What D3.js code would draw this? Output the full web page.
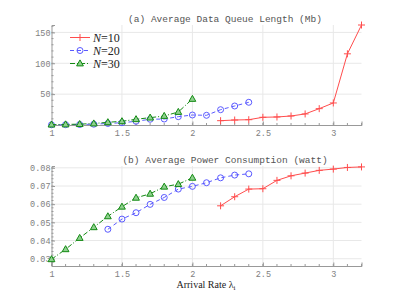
<!DOCTYPE html>
<html>
<head>
<meta charset="utf-8">
<title>Queue length and power</title>
<script src="https://cdn.jsdelivr.net/npm/d3@7"></script>
<style>
body { margin: 0; background: #fff; }
.tick text { font-family: "Liberation Mono", "DejaVu Sans Mono", monospace; font-size: 8.5px; fill: #808080; }
.ttl { font-family: "Liberation Mono", monospace; font-size: 9.5px; fill: #555; }
.lab { font-family: "Liberation Serif", "DejaVu Serif", serif; font-size: 10px; fill: #222; }
.leg { font-family: "Liberation Serif", "DejaVu Serif", serif; font-size: 12px; fill: #222; }
</style>
</head>
<body>
<svg id="chart" width="399" height="299"></svg>
<script>
// series x values
var x10 = [2.2, 2.3, 2.4, 2.5, 2.6, 2.7, 2.8, 2.9, 3.0, 3.1, 3.2];
var x20 = [1.0, 1.1, 1.2, 1.3, 1.4, 1.5, 1.6, 1.7, 1.8, 1.9, 2.0, 2.1, 2.2, 2.3, 2.4];
var x30 = [1.0, 1.1, 1.2, 1.3, 1.4, 1.5, 1.6, 1.7, 1.8, 1.9, 2.0];
var xPow20 = [1.4, 1.5, 1.6, 1.7, 1.8, 1.9, 2.0, 2.1, 2.2, 2.3, 2.4];

// (a) queue length, Mb
var queue10 = [7.0, 8.1, 8.6, 12.5, 13.0, 14.6, 17.9, 26.5, 35.7, 115.3, 162];
var queue20 = [0.3, 0.5, 0.8, 1.3, 2.5, 3.7, 6.0, 9.3, 9.7, 13.5, 16.2, 15.7, 24.8, 30.8, 36.8];
var queue30 = [0.6, 0.9, 1.4, 2.4, 4.4, 6.0, 9.3, 11.9, 14.6, 21.1, 42.2];

// (b) power, watt
var power10 = [0.0591, 0.0641, 0.0683, 0.0685, 0.0731, 0.0756, 0.0771, 0.0786, 0.0793, 0.0802, 0.0805];
var power20 = [0.0462, 0.0518, 0.0553, 0.0599, 0.0637, 0.0683, 0.0698, 0.0718, 0.0745, 0.0760, 0.0767];
var power30 = [0.0297, 0.0352, 0.0414, 0.0473, 0.0533, 0.0586, 0.0635, 0.0657, 0.0696, 0.0710, 0.0745];

var xTicks = [1, 1.5, 2, 2.5, 3];
var xTickLabels = ["1", "1.5", "2", "2.5", "3"];
var queueTicks = [50, 100, 150];
var powerTicks = [0.03, 0.04, 0.05, 0.06, 0.07, 0.08];
var legendLabels = ["10", "20", "30"];

var svg = d3.select("#chart");
var left = 51.5, right = 361.5;
var x = d3.scaleLinear().domain([1, 3.2]).range([left, right]);

var styles = [
  {color: "#ff4d4d", dash: null, mark: "plus"},
  {color: "#5a5aff", dash: "4,3", mark: "circle"},
  {color: "#138a13", dash: "5,2,1,2", mark: "tri"}
];

function marker(g, s, px, py) {
  if (s.mark == "plus") {
    g.append("path").attr("d", "M" + (px - 3.5) + "," + py + "h7M" + px + "," + (py - 3.5) + "v7")
      .attr("stroke", s.color).attr("stroke-width", 1);
  } else if (s.mark == "circle") {
    g.append("circle").attr("cx", px).attr("cy", py).attr("r", 3)
      .attr("fill", "none").attr("stroke", s.color).attr("stroke-width", 1);
  } else {
    g.append("path").attr("d", "M" + px + "," + (py - 3.6) + "L" + (px + 3.4) + "," + (py + 2.4) + "L" + (px - 3.4) + "," + (py + 2.4) + "Z")
      .attr("fill", "#8fd08f").attr("stroke", s.color).attr("stroke-width", 1);
  }
}

function panel(top, bottom, yDom, yTicks, yMinor, yFmt, title, titleY, pad, series) {
  var y = d3.scaleLinear().domain(yDom).range([bottom, top]);
  var g = svg.append("g");
  // grid
  g.selectAll(".gy").data(yTicks).enter().append("line")
    .attr("x1", left).attr("x2", right).attr("y1", function(d) { return y(d); }).attr("y2", function(d) { return y(d); })
    .attr("stroke", "#e8e8e8");
  g.selectAll(".gx").data(xTicks.slice(1)).enter().append("line")
    .attr("y1", top).attr("y2", bottom).attr("x1", function(d) { return x(d); }).attr("x2", function(d) { return x(d); })
    .attr("stroke", "#e8e8e8");
  // minor ticks
  g.selectAll(".mx").data(d3.range(10, 33).map(function(v) { return v / 10; })).enter().append("line")
    .attr("x1", function(d) { return x(d); }).attr("x2", function(d) { return x(d); })
    .attr("y1", bottom).attr("y2", bottom - 2).attr("stroke", "#999");
  g.selectAll(".my").data(yMinor).enter().append("line")
    .attr("x1", left).attr("x2", left + 2).attr("y1", function(d) { return y(d); }).attr("y2", function(d) { return y(d); })
    .attr("stroke", "#999");
  // axes
  var xa = g.append("g").attr("transform", "translate(0," + bottom + ")")
    .call(d3.axisBottom(x).tickValues(xTicks).tickSize(-3.5).tickPadding(pad).tickFormat(function(d, i) { return xTickLabels[i]; }));
  var ya = g.append("g").attr("transform", "translate(" + left + ",0)")
    .call(d3.axisLeft(y).tickValues(yTicks).tickSize(-3.5).tickPadding(1).tickFormat(yFmt));
  [xa, ya].forEach(function(a) {
    a.select(".domain").attr("stroke", "#999");
    a.selectAll(".tick line").attr("stroke", "#999");
  });
  g.append("text").attr("class", "ttl").attr("x", 225).attr("y", titleY).attr("text-anchor", "middle").text(title);
  // data
  series.forEach(function(sr, i) {
    var s = styles[i];
    var pts = sr.xs.map(function(v, j) { return [x(v), y(sr.ys[j])]; });
    g.append("path").attr("d", d3.line()(pts)).attr("fill", "none")
      .attr("stroke", s.color).attr("stroke-width", 1).attr("stroke-dasharray", s.dash);
    pts.forEach(function(p) { marker(g, s, p[0], p[1]); });
  });
}

panel(25, 125, [0, 162], queueTicks, d3.range(10, 161, 10), d3.format("d"),
  "(a) Average Data Queue Length (Mb)", 22, 5,
  [{xs: x10, ys: queue10}, {xs: x20, ys: queue20}, {xs: x30, ys: queue30}]);

panel(166, 266, [0.026, 0.081], powerTicks, d3.range(0.028, 0.081, 0.002), d3.format(".2f"),
  "(b) Average Power Consumption (watt)", 163, 5,
  [{xs: x10, ys: power10}, {xs: xPow20, ys: power20}, {xs: x30, ys: power30}]);

// legend
legendLabels.forEach(function(lbl, i) {
  var ly = 37.5 + i * 13;
  var s = styles[i];
  svg.append("line").attr("x1", 70).attr("x2", 90).attr("y1", ly).attr("y2", ly)
    .attr("stroke", s.color).attr("stroke-width", 1).attr("stroke-dasharray", s.dash);
  marker(svg, s, 80, ly);
  var t = svg.append("text").attr("class", "leg").attr("x", 93).attr("y", ly + 4);
  t.append("tspan").attr("font-style", "italic").text("N");
  t.append("tspan").text("=" + lbl);
});

// x axis title
var xt = svg.append("text").attr("class", "lab").attr("x", 206).attr("y", 288).attr("text-anchor", "middle");
xt.append("tspan").text("Arrival Rate λ");
xt.append("tspan").attr("font-size", "7px").attr("dy", 2).text("i");
</script>
</body>
</html>
